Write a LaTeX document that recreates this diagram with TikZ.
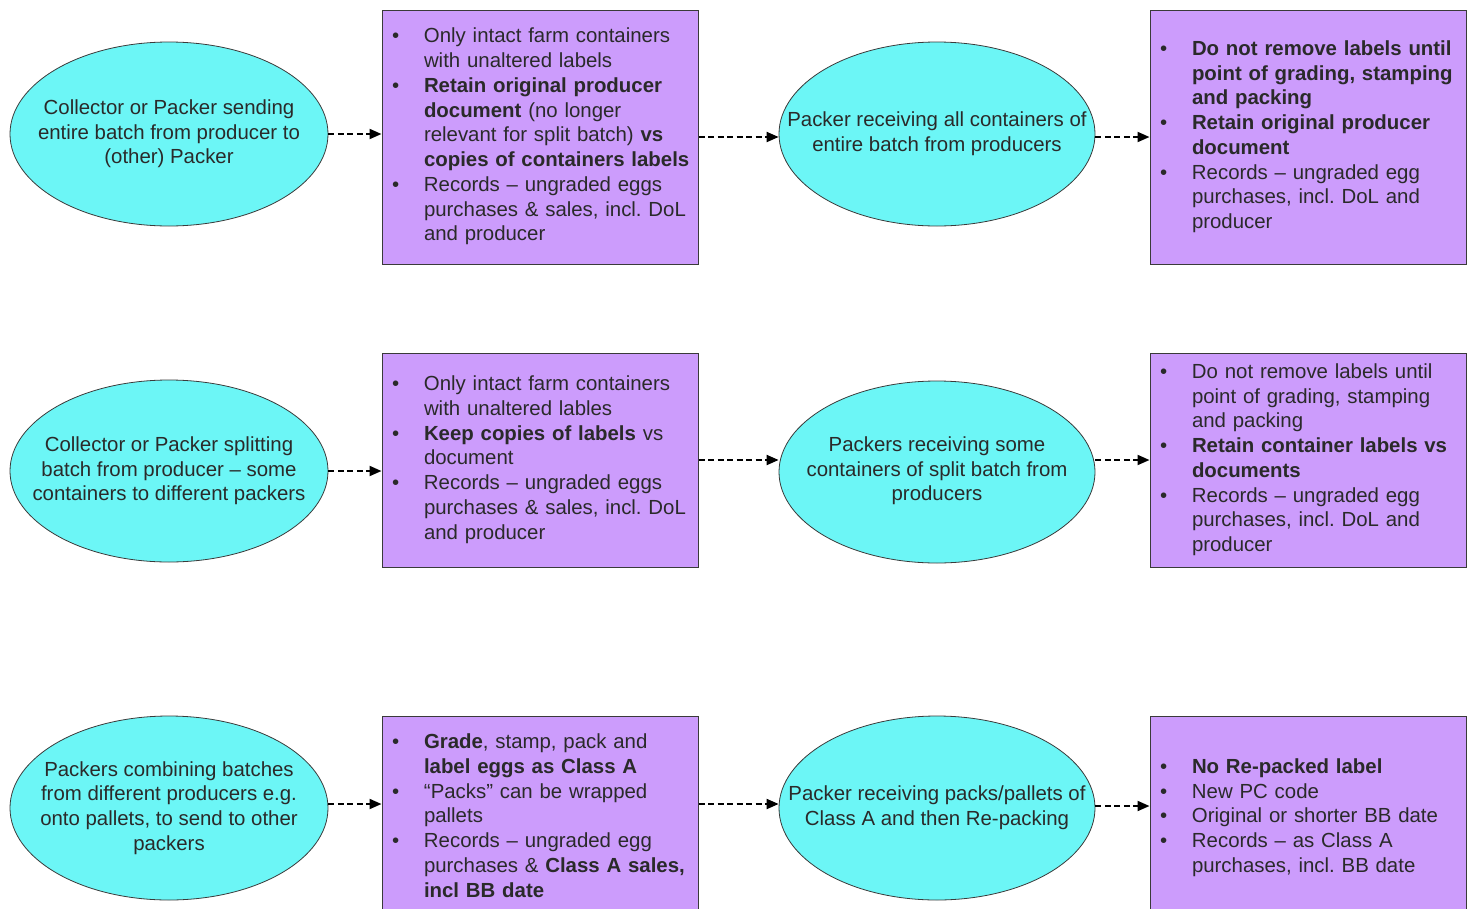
\documentclass[tikz,border=0pt]{standalone}
\usepackage{fontspec}
\setmainfont{Liberation Sans}
\usetikzlibrary{shapes.geometric,arrows.meta}
\definecolor{ecyan}{HTML}{6CF6F6}
\definecolor{bpurple}{HTML}{CC9CFC}
\definecolor{edgegray}{HTML}{3A3A3A}
\definecolor{txt}{HTML}{2A2A2A}
\newcommand{\bx}[1]{\noindent\begin{tabular}{@{}p{32pt}@{}l@{}}#1\end{tabular}}
\newcommand{\bi}{\textbullet}
\frenchspacing
\begin{document}
\begin{tikzpicture}[x=1pt,y=-1pt,
  oval/.style={ellipse,draw=edgegray,line width=0.8pt,fill=ecyan,minimum width=318pt,minimum height=184pt,inner sep=0pt},
  ovaltext/.style={inner sep=0pt,align=center,text=txt,font=\fontsize{20.4}{24.6}\selectfont},
  panel/.style={draw=edgegray,line width=1pt,fill=bpurple,text width=296pt,inner xsep=10pt,inner ysep=0pt,align=left,text=txt,font=\fontsize{20.4}{24.75}\selectfont},
  flow/.style={draw=black,line width=2pt,dash pattern=on 6pt off 3.5pt,-{Triangle[length=12pt,width=10pt]}}]
\useasboundingbox (0,0) rectangle (1473,908);
\clip (0,0) rectangle (1473,908);

% Row 1
\node[oval] (e11) at (169,134) {};
\node[ovaltext] (l11) at (e11) {Collector or Packer sending\\entire batch from producer to\\(other) Packer};
\node[panel,minimum height=254pt] (b11) at (540,137) {\bx{
\bi & Only intact farm containers\\
 & with unaltered labels\\
\bi & \textbf{Retain original producer}\\
 & \textbf{document} (no longer\\
 & relevant for split batch) \textbf{vs}\\
 & \textbf{copies of containers labels}\\
\bi & Records – ungraded eggs\\
 & purchases \& sales, incl. DoL\\
 & and producer}};
\node[oval,minimum width=316pt] (e12) at (937,134) {};
\node[ovaltext] (l12) at (e12) {Packer receiving all containers of\\entire batch from producers};
\node[panel,minimum height=254pt] (b12) at (1308,137) {\bx{
\bi & \textbf{Do not remove labels until}\\
 & \textbf{point of grading, stamping}\\
 & \textbf{and packing}\\
\bi & \textbf{Retain original producer}\\
 & \textbf{document}\\
\bi & Records – ungraded egg\\
 & purchases, incl. DoL and\\
 & producer}};

% Row 2
\node[oval,minimum height=182pt] (e21) at (169,471) {};
\node[ovaltext] (l21) at (e21) {Collector or Packer splitting\\batch from producer – some\\containers to different packers};
\node[panel,minimum height=214pt] (b21) at (540,460) {\bx{
\bi & Only intact farm containers\\
 & with unaltered lables\\
\bi & \textbf{Keep copies of labels} vs\\
 & document\\
\bi & Records – ungraded eggs\\
 & purchases \& sales, incl. DoL\\
 & and producer}};
\node[oval,minimum width=316pt,minimum height=182pt] (e22) at (937,472) {};
\node[ovaltext] (l22) at (937,471) {Packers receiving some\\containers of split batch from\\producers};
\node[panel,minimum height=214pt] (b22) at (1308,460) {\bx{
\bi & Do not remove labels until\\
 & point of grading, stamping\\
 & and packing\\
\bi & \textbf{Retain container labels vs}\\
 & \textbf{documents}\\
\bi & Records – ungraded egg\\
 & purchases, incl. DoL and\\
 & producer}};

% Row 3
\node[oval] (e31) at (169,808) {};
\node[ovaltext] (l31) at (e31) {Packers combining batches\\from different producers e.g.\\onto pallets, to send to other\\packers};
\node[panel,minimum height=204pt] (b31) at (540,818) {\bx{
\bi & \textbf{Grade}, stamp, pack and\\
 & \textbf{label eggs as Class A}\\
\bi & “Packs” can be wrapped\\
 & pallets\\
\bi & Records – ungraded egg\\
 & purchases \& \textbf{Class A sales,}\\
 & \textbf{incl BB date}}};
\node[oval,minimum width=316pt] (e32) at (937,808) {};
\node[ovaltext] (l32) at (e32) {Packer receiving packs/pallets of\\Class A and then Re-packing};
\node[panel,minimum height=204pt] (b32) at (1308,818) {\bx{
\bi & \textbf{No Re-packed label}\\
\bi & New PC code\\
\bi & Original or shorter BB date\\
\bi & Records – as Class A\\
 & purchases, incl. BB date}};

% Connectors
\draw[flow] (e11.east) -- (b11.west |- e11.east);
\draw[flow] (b11.east) -- (e12.west |- b11.east);
\draw[flow] (e12.east |- b12.west) -- (b12.west);
\draw[flow] (e21.east) -- (b21.west |- e21.east);
\draw[flow] (b21.east) -- (e22.west |- b21.east);
\draw[flow] (e22.east |- b22.west) -- (b22.west);
\draw[flow] (e31.east |- 0,804) -- (b31.west |- 0,804);
\draw[flow] (b31.east |- 0,804) -- (e32.west |- 0,804);
\draw[flow] (e32.east |- 0,806) -- (b32.west |- 0,806);
\end{tikzpicture}
\end{document}
